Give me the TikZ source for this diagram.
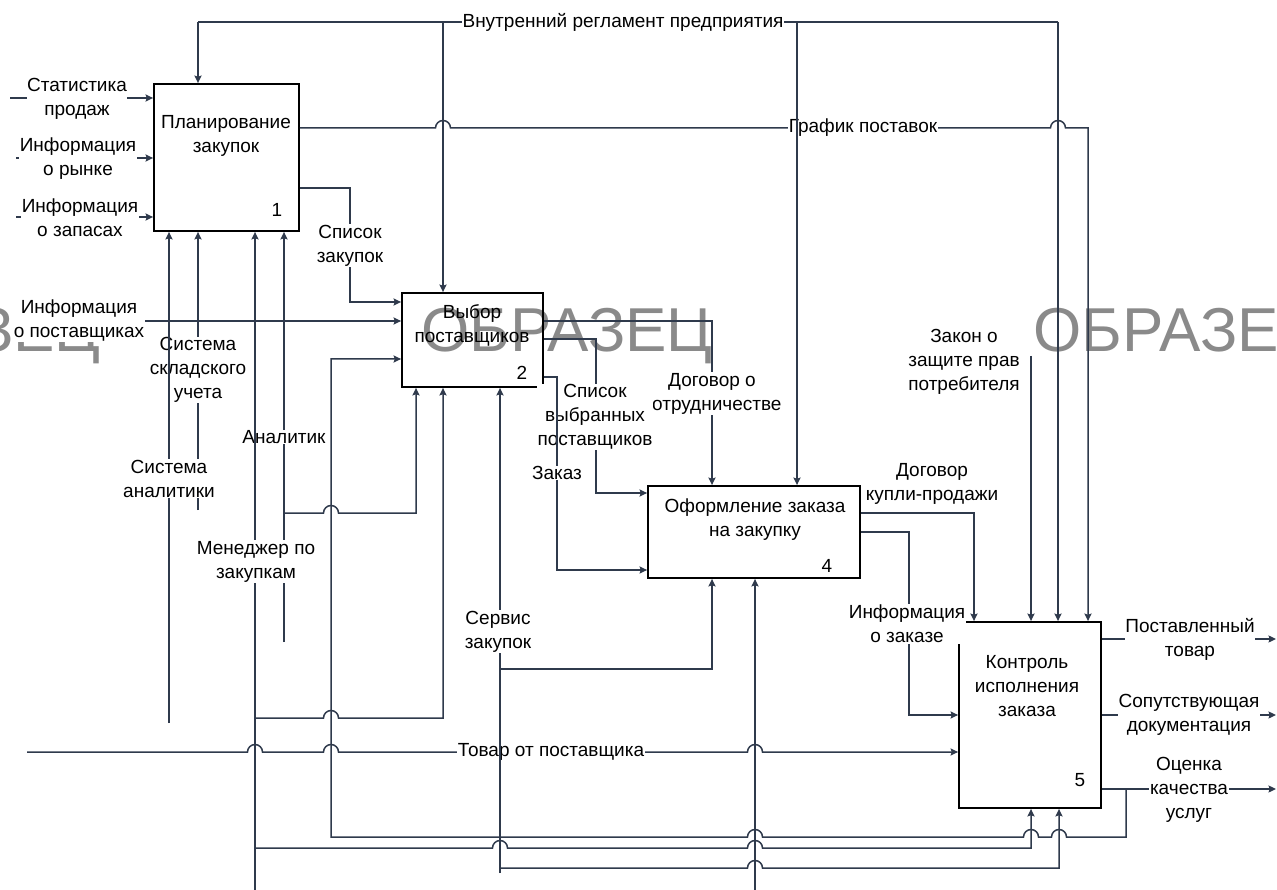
\documentclass[tikz,border=0pt]{standalone}
\usepackage{fontspec}
\setmainfont{Liberation Sans}
\usetikzlibrary{arrows.meta,calc}
\definecolor{lc}{HTML}{2F3A4C}
\definecolor{wm}{HTML}{8A8A8A}
\newcommand\lblfont{\fontsize{19}{24}\selectfont}
\begin{document}
\begin{tikzpicture}[x=1pt,y=-1pt,
  ln/.style={draw=lc,line width=1.5pt},
  arr/.style={ln,-{Stealth[length=7.5pt,width=7pt,inset=1.2pt]}},
  lab/.style={fill=white,inner sep=0.6pt,align=center,font=\lblfont,text=black},
  txt/.style={inner sep=0pt,align=center,font=\lblfont,text=black},
  box/.style={draw=black,line width=1.8pt,inner sep=0pt},
  wmk/.style={font=\fontsize{62}{62}\selectfont,text=wm,inner sep=0pt}]
\useasboundingbox (0,0) rectangle (1277,890);
\clip (0,0) rectangle (1277,890);
\fill[white] (0,0) rectangle (1277,890);

% watermark
\node[wmk] (w1) at (-45,336) {ОБРАЗЕЦ};
\node[wmk] (w2) at (567,336) {ОБРАЗЕЦ};
\node[wmk] (w3) at (1179,336) {ОБРАЗЕЦ};

% boxes
\node[box,minimum width=145pt,minimum height=147pt] (b1) at (226.5,157.5) {};
\node[box,minimum width=141pt,minimum height=94pt] (b2) at (472.5,340) {};
\node[box,minimum width=212pt,minimum height=92pt] (b4) at (754,532) {};
\node[box,minimum width=142pt,minimum height=186pt] (b5) at (1030,715) {};

\node[txt] (t1) at (226,136) {Планирование\\закупок};
\node[txt] (n1) at (277,210) {1};
\node[txt] (t2) at (472,325.5) {Выбор\\поставщиков};
\node[txt] (n2) at (522,373) {2};
\node[txt] (t4) at (755,519.5) {Оформление заказа\\на закупку};
\node[txt] (n4) at (827,566) {4};
\node[txt] (t5) at (1027,686) {Контроль\\исполнения\\заказа};
\node[txt] (n5) at (1080,780) {5};

% output of box 1: График поставок
\draw[arr] (b1.east |- 0,128) -- (435.5,128) arc[start angle=180,end angle=0,radius=7.5pt]
  -- (1050.5,128) arc[start angle=180,end angle=0,radius=7.5pt] -- (1088,128) -- (1088,0 |- b5.north);
\node[lab] (lgr) at (863,128) {График поставок};

% control: Внутренний регламент предприятия
\draw[ln] (198,22) -- (1058,22);
\node[lab] (lvr) at (623,22) {Внутренний регламент предприятия};
\draw[arr] (198,22) -- (198,0 |- b1.north);
\draw[arr] (443,22) -- (443,0 |- b2.north);
\draw[arr] (797,22) -- (797,0 |- b4.north);
\draw[arr] (1058,22) -- (1058,0 |- b5.north);

% inputs of box 1
\draw[arr] (10,98) -- (10,98 -| b1.west);
\node[lab] (lst) at (77,99) {Статистика\\продаж};
\draw[arr] (16,158) -- (16,158 -| b1.west);
\node[lab] (lrn) at (78,158.5) {Информация\\о рынке};
\draw[arr] (16,217) -- (16,217 -| b1.west);
\node[lab] (lzp) at (80,217.5) {Информация\\о запасах};

% Список закупок
\draw[arr] (b1.east |- 0,188) -- (350,188) -- (350,302) -- (350,302 -| b2.west);
\node[lab] (lsz) at (350,245.5) {Список\\закупок};

% Информация о поставщиках
\draw[arr] (13,321) -- (13,321 -| b2.west);
\node[lab] (lip) at (79,321) {Информация\\о поставщиках};

% mechanisms of box 1
\draw[arr] (198,510) -- (198,0 |- b1.south);
\node[lab] (lss) at (198,370) {Система\\складского\\учета};
\draw[arr] (169,723) -- (169,0 |- b1.south);
\node[lab] (lsa) at (169,478.5) {Система\\аналитики};

\draw[arr] (284,642) -- (284,0 |- b1.south);
\draw[arr] (284,513) -- (323.5,513) arc[start angle=180,end angle=0,radius=7.5pt] -- (416,513) -- (416,0 |- b2.south);
\node[lab] (lan) at (284,437) {Аналитик};

\draw[arr] (255,890) -- (255,0 |- b1.south);
\node[lab] (lmz) at (256,561.5) {Менеджер по\\закупкам};
\draw[arr] (255,718) -- (323.5,718) arc[start angle=180,end angle=0,radius=7.5pt] -- (443,718) -- (443,0 |- b2.south);
\draw[arr] (255,848) -- (492.5,848) arc[start angle=180,end angle=0,radius=7.5pt]
  -- (747.5,848) arc[start angle=180,end angle=0,radius=7.5pt] -- (1031,848) -- (1031,0 |- b5.south);

% feedback: Оценка качества услуг -> box 2
\draw[arr] (1126,789) -- (1126,837) -- (1066.5,837) arc[start angle=0,end angle=180,radius=7.5pt]
  -- (1038.5,837) arc[start angle=0,end angle=180,radius=7.5pt]
  -- (762.5,837) arc[start angle=0,end angle=180,radius=7.5pt]
  -- (331,837) -- (331,359) -- (331,359 -| b2.west);

% Товар от поставщика
\draw[arr] (27,752) -- (247.5,752) arc[start angle=180,end angle=0,radius=7.5pt]
  -- (323.5,752) arc[start angle=180,end angle=0,radius=7.5pt]
  -- (747.5,752) arc[start angle=180,end angle=0,radius=7.5pt] -- (0,752 -| b5.west);
\node[lab] (ltp) at (551,752) {Товар от поставщика};

% Сервис закупок
\draw[arr] (500,873) -- (500,0 |- b2.south);
\node[lab] (lsv) at (498,631.5) {Сервис\\закупок};
\draw[arr] (500,669) -- (712,669) -- (712,0 |- b4.south);
\draw[arr] (500,868) -- (747.5,868) arc[start angle=180,end angle=0,radius=7.5pt] -- (1059,868) -- (1059,0 |- b5.south);

% mechanism of box 4 from below
\draw[arr] (755,890) -- (755,0 |- b4.south);

% outputs of box 2
\draw[arr] (b2.east |- 0,321) -- (712,321) -- (712,0 |- b4.north);
\node[lab] (lds) at (712,393.5) {Договор о\\сотрудничестве};
\draw[arr] (b2.east |- 0,339) -- (596,339) -- (596,493) -- (0,493 -| b4.west);
\node[lab] (lvp) at (595,417) {Список\\выбранных\\поставщиков};
\draw[arr] (b2.east |- 0,377) -- (557,377) -- (557,570) -- (0,570 -| b4.west);
\node[lab] (lzk) at (557,473) {Заказ};

% outputs of box 4
\draw[arr] (b4.east |- 0,513) -- (974,513) -- (974,0 |- b5.north);
\node[txt] (ldk) at (932,483.5) {Договор\\купли-продажи};
\draw[arr] (b4.east |- 0,532) -- (909,532) -- (909,715) -- (0,715 -| b5.west);
\node[lab] (liz) at (907,624) {Информация\\о заказе};

% Закон о защите прав потребителя
\draw[arr] (1031,356) -- (1031,0 |- b5.north);
\node[txt] (lzz) at (964,361.5) {Закон о\\защите прав\\потребителя};

% outputs of box 5
\draw[arr] (b5.east |- 0,639) -- (1276,639);
\node[lab] (lpt) at (1190,639.5) {Поставленный\\товар};
\draw[arr] (b5.east |- 0,715) -- (1276,715);
\node[lab] (lsd) at (1189,715) {Сопутствующая\\документация};
\draw[arr] (b5.east |- 0,789) -- (1276,789);
\node[lab] (lok) at (1189,789.5) {Оценка\\качества\\услуг};
\end{tikzpicture}
\end{document}
